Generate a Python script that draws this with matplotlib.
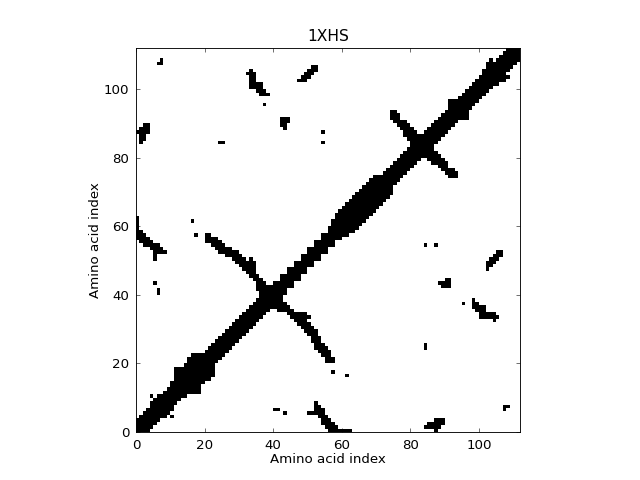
import numpy as np
import matplotlib
matplotlib.use("Agg")
import matplotlib.pyplot as plt

# --- DATA ---
n_res = 112

# how far each residue's contacts reach above the diagonal
band_upper = [3, 3, 3, 3, 4, 4, 4, 3, 3, 3,
              4, 7, 6, 5, 5, 6, 6, 5, 4, 3,
              3, 3, 3, 3, 3, 3, 3, 3, 3, 3,
              3, 3, 3, 3, 3, 3, 3, 3, 3, 3,
              3, 2, 3, 2, 3, 2, 3, 2, 3, 2,
              3, 2, 3, 2, 3, 2, 3, 4, 5, 5,
              5, 5, 5, 5, 5, 5, 5, 5, 5, 5,
              4, 3, 3, 3, 3, 3, 3, 3, 3, 3,
              3, 3, 3, 3, 3, 3, 3, 3, 3, 3,
              3, 5, 4, 3, 3, 3, 3, 3, 3, 3,
              3, 4, 5, 4, 3, 3, 3, 3, 3, 3,
              3, 3]

# first hairpin (crossing near residue 38)
arm1_x = [20, 21, 22, 23, 24, 25, 26, 27, 28, 29, 30, 31, 32, 33, 34, 35, 36, 37, 38, 39]
arm1_lo = [55, 55, 54, 53, 52, 52, 51, 51, 50, 49, 48, 47, 46, 45, 44, 41, 39, 37, 36, 36]
arm1_hi = [57, 57, 56, 56, 55, 54, 53, 53, 52, 52, 51, 50, 49, 50, 49, 45, 44, 43, 42, 41]

# second hairpin (crossing near residue 84)
arm2_x = [74, 75, 76, 77, 78, 79, 80, 81, 82, 83, 84]
arm2_lo = [91, 90, 89, 88, 86, 85, 84, 83, 82, 81, 81]
arm2_hi = [93, 93, 92, 90, 90, 89, 88, 87, 86, 86, 85]

# isolated long-range contacts (upper triangle)
spot_x = [7, 6, 7,
          32, 33, 33, 33, 33, 33, 33, 34, 34, 34, 34, 34, 35, 35, 35,
          36, 36, 36, 36, 37, 37, 38,
          37,
          0, 1, 1, 1, 1, 1, 2, 2, 2, 2, 2, 3, 3, 3,
          24, 25,
          47, 48, 48, 49, 49, 49, 50, 50, 50, 51, 51, 51, 52, 52,
          42, 42, 42, 43, 43, 43, 43, 44, 44,
          54, 54,
          16, 17,
          5, 6, 6,
          0, 0, 0, 0, 0, 0, 0, 1, 1, 1, 1, 2, 2, 2, 2, 3, 3, 3,
          4, 4, 4, 5, 5, 5, 5, 5, 6, 6, 6, 7, 7, 8,
          4, 103]
spot_y = [108, 107, 107,
          104, 100, 101, 102, 103, 104, 105, 100, 101, 102, 103, 104, 99, 100, 101,
          98, 99, 100, 101, 98, 99, 98,
          95,
          87, 84, 85, 86, 87, 88, 85, 86, 87, 88, 89, 87, 88, 89,
          84, 84,
          102, 102, 103, 102, 103, 104, 103, 104, 105, 104, 105, 106, 105, 106,
          89, 90, 91, 88, 89, 90, 91, 90, 91,
          87, 84,
          61, 57,
          43, 40, 41,
          56, 57, 58, 59, 60, 61, 62, 55, 56, 57, 58, 54, 55, 56, 57, 54, 55, 56,
          53, 54, 55, 50, 51, 52, 53, 54, 52, 53, 54, 52, 53, 52,
          10, 108]

# --- BUILD MATRIX ---
contacts = np.zeros((n_res, n_res), dtype=int)
for i, w in enumerate(band_upper):
    contacts[i:min(i + w + 1, n_res), i] = 1
for x, lo, hi in zip(arm1_x + arm2_x, arm1_lo + arm2_lo, arm1_hi + arm2_hi):
    contacts[lo:hi + 1, x] = 1
for x, y in zip(spot_x, spot_y):
    contacts[y, x] = 1
contacts = np.maximum(contacts, contacts.T)

# --- PLOT ---
fig = plt.figure(figsize=(8, 6), dpi=80)
ax = fig.add_axes([0.125, 0.1, 0.775, 0.8])
ax.imshow(contacts, cmap="binary", origin="lower", interpolation="nearest",
          extent=(0, n_res, 0, n_res), vmin=0, vmax=1)
ax.set_xlim(0, n_res)
ax.set_ylim(0, n_res)
ax.set_xticks(range(0, 101, 20))
ax.set_yticks(range(0, 101, 20))
ax.tick_params(direction="in", top=True, right=True, length=4, width=0.5,
               labelsize=12, pad=6)
ax.set_title("1XHS", fontsize=14)
ax.set_xlabel("Amino acid index", fontsize=12, labelpad=1)
ax.set_ylabel("Amino acid index", fontsize=12, labelpad=2)

fig.savefig("out.png", dpi=80)
